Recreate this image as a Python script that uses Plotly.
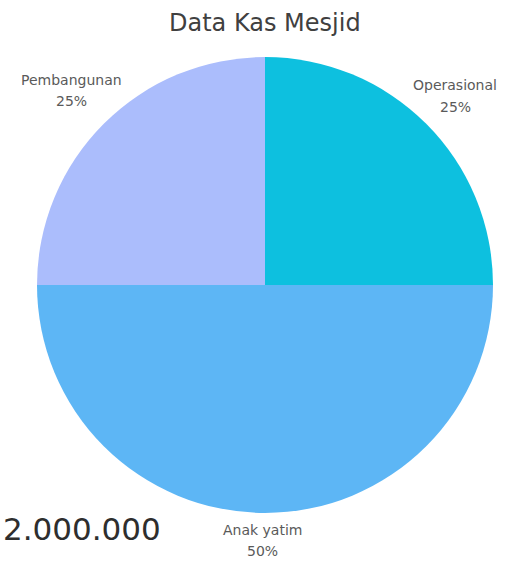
import plotly.graph_objects as go

categories = ["Operasional", "Anak yatim", "Pembangunan"]
values = [25, 50, 25]
colors = ["#0DC0DF", "#5DB6F5", "#ABBDFC"]
title_text = "Data Kas Mesjid"
total_text = "2.000.000"

W, H = 507, 565
cx, cy, r = 265, 285, 228
FONT = "DejaVu Sans, Noto Sans, sans-serif"

fig = go.Figure()
fig.add_trace(go.Pie(
    labels=categories,
    values=values,
    marker=dict(colors=colors, line=dict(width=0)),
    sort=False,
    direction="clockwise",
    rotation=0,
    textinfo="none",
    hoverinfo="label+percent",
    showlegend=False,
    domain=dict(x=[(cx - r) / W, (cx + r) / W], y=[(H - cy - r) / H, (H - cy + r) / H]),
))

total = sum(values)
# centre x, line-1 y, line-2 y (pixels from top-left)
label_pos = {"Operasional": (455, 85, 107), "Anak yatim": (262, 530, 551), "Pembangunan": (71, 80, 101)}
for cat, v in zip(categories, values):
    px, y1, y2 = label_pos[cat]
    for txt, py in ((cat, y1), (f"{round(100 * v / total)}%", y2)):
        fig.add_annotation(
            x=px / W, y=1 - py / H, xref="paper", yref="paper",
            text=txt, showarrow=False, xanchor="center", yanchor="middle",
            font=dict(family=FONT, size=14, color="#5a5a5a"),
        )

fig.add_annotation(
    x=265 / W, y=1 - 23 / H, xref="paper", yref="paper",
    text=title_text, showarrow=False, xanchor="center", yanchor="middle",
    font=dict(family=FONT, size=24, color="#404040"),
)
fig.add_annotation(
    x=1 / W, y=1 - 529 / H, xref="paper", yref="paper",
    text=total_text, showarrow=False, xanchor="left", yanchor="middle",
    font=dict(family=FONT, size=31, color="#2e2e2e"),
)

fig.update_layout(
    width=W, height=H,
    margin=dict(l=0, r=0, t=0, b=0),
    paper_bgcolor="white", plot_bgcolor="white",
)
fig.write_html(
    "out.html",
    config={"displayModeBar": False},
    post_script="document.body.style.margin='0';document.body.style.padding='0';",
)
